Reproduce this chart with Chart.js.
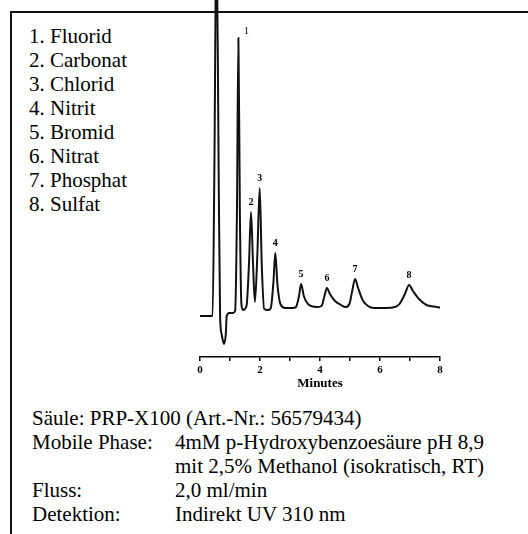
<!DOCTYPE html>
<html>
<head>
<meta charset="utf-8">
<script src="https://cdn.jsdelivr.net/npm/chart.js@4"></script>
<style>
    body { margin: 0; background: #fff; }
    #page { position: relative; width: 528px; height: 534px; overflow: hidden; font-family: "Liberation Serif", "Times New Roman", Times, serif; font-size: 21px; line-height: 24px; color: #000; }
    #frame { position: absolute; left: 10px; top: 11px; width: 530px; height: 540px; border-top: 2px solid #111; border-left: 2px solid #111; }
    #legend { position: absolute; left: 29px; top: 24px; }
    #conditions { position: absolute; left: 32px; top: 406px; }
    .row { position: relative; height: 24px; white-space: nowrap; }
    .row .val { position: absolute; left: 143px; top: 0; }
    #chart { position: absolute; left: 0; top: 0; }
</style>
</head>
<body>
<div id="page">
    <div id="frame"></div>
    <div id="legend"></div>
    <div id="conditions"></div>
    <canvas id="chart" width="528" height="534"></canvas>
</div>
<script>
const SERIF = '"Liberation Serif", "Times New Roman", Times, serif';

// Analytes (legend text)
const analytes = ['Fluorid', 'Carbonat', 'Chlorid', 'Nitrit', 'Bromid', 'Nitrat', 'Phosphat', 'Sulfat'];

// Trace: retention time (min) and detector signal (arbitrary units)
const times = [0, 0.42, 0.48, 0.55, 0.62, 0.67, 0.72, 0.80, 0.86, 0.89, 0.98, 1.10, 1.17, 1.23, 1.28, 1.33, 1.38, 1.43,
    1.55, 1.63, 1.70, 1.77, 1.83, 1.91, 1.99, 2.06, 2.14, 2.27, 2.36, 2.45, 2.51, 2.58, 2.68, 2.85, 3.10,
    3.20, 3.30, 3.37, 3.46, 3.60, 3.90, 4.05, 4.15, 4.23, 4.33, 4.50, 4.70, 4.85,
    4.98, 5.08, 5.17, 5.27, 5.42, 5.60, 5.80, 6.20, 6.50, 6.65, 6.83, 6.97, 7.10, 7.30, 7.55, 7.80, 8.00];
const signal = [0, 0, 15, 40, 15, 0, -1.8, -2.8, -1.8, 0, 0.3, 0.3, 0.5, 10, 27.8, 10, 1.2, 0.6,
    1.0, 5.0, 10.4, 5.0, 1.4, 6.0, 12.8, 5.0, 0.7, 0.6, 0.8, 3.5, 6.3, 3.2, 1.2, 0.8, 0.8,
    0.9, 2.0, 3.2, 2.0, 1.2, 0.9, 1.0, 2.0, 2.8, 2.2, 1.5, 1.1, 0.9,
    1.2, 2.6, 3.7, 2.8, 1.6, 1.0, 0.8, 0.8, 0.9, 1.2, 2.2, 3.1, 2.5, 1.7, 1.1, 0.95, 0.85];

// Peak labels
const peakNumbers = ['1', '2', '3', '4', '5', '6', '7', '8'];
const peakTimes = [1.28, 1.70, 1.99, 2.51, 3.37, 4.23, 5.17, 6.97];
const peakHeights = [27.8, 10.4, 12.8, 6.3, 3.2, 2.8, 3.7, 3.1];

// Axis
const xTicks = [0, 2, 4, 6, 8];

// Chromatography conditions
const condLabels = ['Säule: PRP-X100 (Art.-Nr.: 56579434)', 'Mobile Phase:', '', 'Fluss:', 'Detektion:'];
const condValues = ['', '4mM p-Hydroxybenzoesäure pH 8,9', 'mit 2,5% Methanol (isokratisch, RT)', '2,0 ml/min', 'Indirekt UV 310 nm'];

document.getElementById('legend').innerHTML = analytes.map((a, i) =>
    `<div class="row">${i + 1}. ${a}</div>`
).join('');

document.getElementById('conditions').innerHTML = condLabels.map((l, i) =>
    `<div class="row"><span>${l}</span><span class="val">${condValues[i]}</span></div>`
).join('');

const peakLabels = {
    id: 'peakLabels',
    afterDatasetsDraw(chart) {
        const { ctx, scales: { x, y } } = chart;
        ctx.save();
        ctx.fillStyle = '#000';
        ctx.textAlign = 'center';
        ctx.textBaseline = 'middle';
        peakNumbers.forEach((n, i) => {
            // the first label sits off to the right of its peak
            const dx = i === 0 ? 8 : 0;
            const dy = i === 0 ? 7 : 10;
            ctx.font = (i === 0 ? '' : 'bold ') + '10px ' + SERIF;
            ctx.fillText(n, x.getPixelForValue(peakTimes[i]) + dx, y.getPixelForValue(peakHeights[i]) - dy);
        });
        ctx.restore();
    }
};

new Chart(document.getElementById('chart').getContext('2d'), {
    type: 'line',
    data: {
        datasets: [{
            data: times.map((t, i) => ({ x: t, y: signal[i] })),
            borderColor: '#111',
            borderWidth: 2,
            pointRadius: 0,
            fill: false,
            cubicInterpolationMode: 'monotone'
        }]
    },
    options: {
        responsive: false,
        animation: false,
        layout: { padding: { left: 200, right: 88, top: 0, bottom: 0 } },
        plugins: {
            legend: { display: false },
            tooltip: { enabled: false }
        },
        scales: {
            x: {
                type: 'linear',
                min: 0,
                max: 8,
                afterFit: function(s) { s.height = 177; },
                ticks: {
                    stepSize: 1,
                    autoSkip: false,
                    maxRotation: 0,
                    padding: 3,
                    color: '#000',
                    font: { family: SERIF, weight: 'bold', size: 11 },
                    callback: function(v) { return xTicks.includes(v) ? String(v) : ''; }
                },
                grid: { drawOnChartArea: false, drawTicks: true, tickLength: 4, tickColor: '#000', lineWidth: 1.5 },
                border: { display: true, color: '#000', width: 1.5 },
                title: {
                    display: true,
                    text: 'Minutes',
                    color: '#000',
                    font: { family: SERIF, weight: 'bold', size: 13, lineHeight: 1.2 },
                    padding: { top: 0, bottom: 143 }
                }
            },
            y: { display: false, min: -4.1, max: 31.6 }
        }
    },
    plugins: [peakLabels]
});
</script>
</body>
</html>
